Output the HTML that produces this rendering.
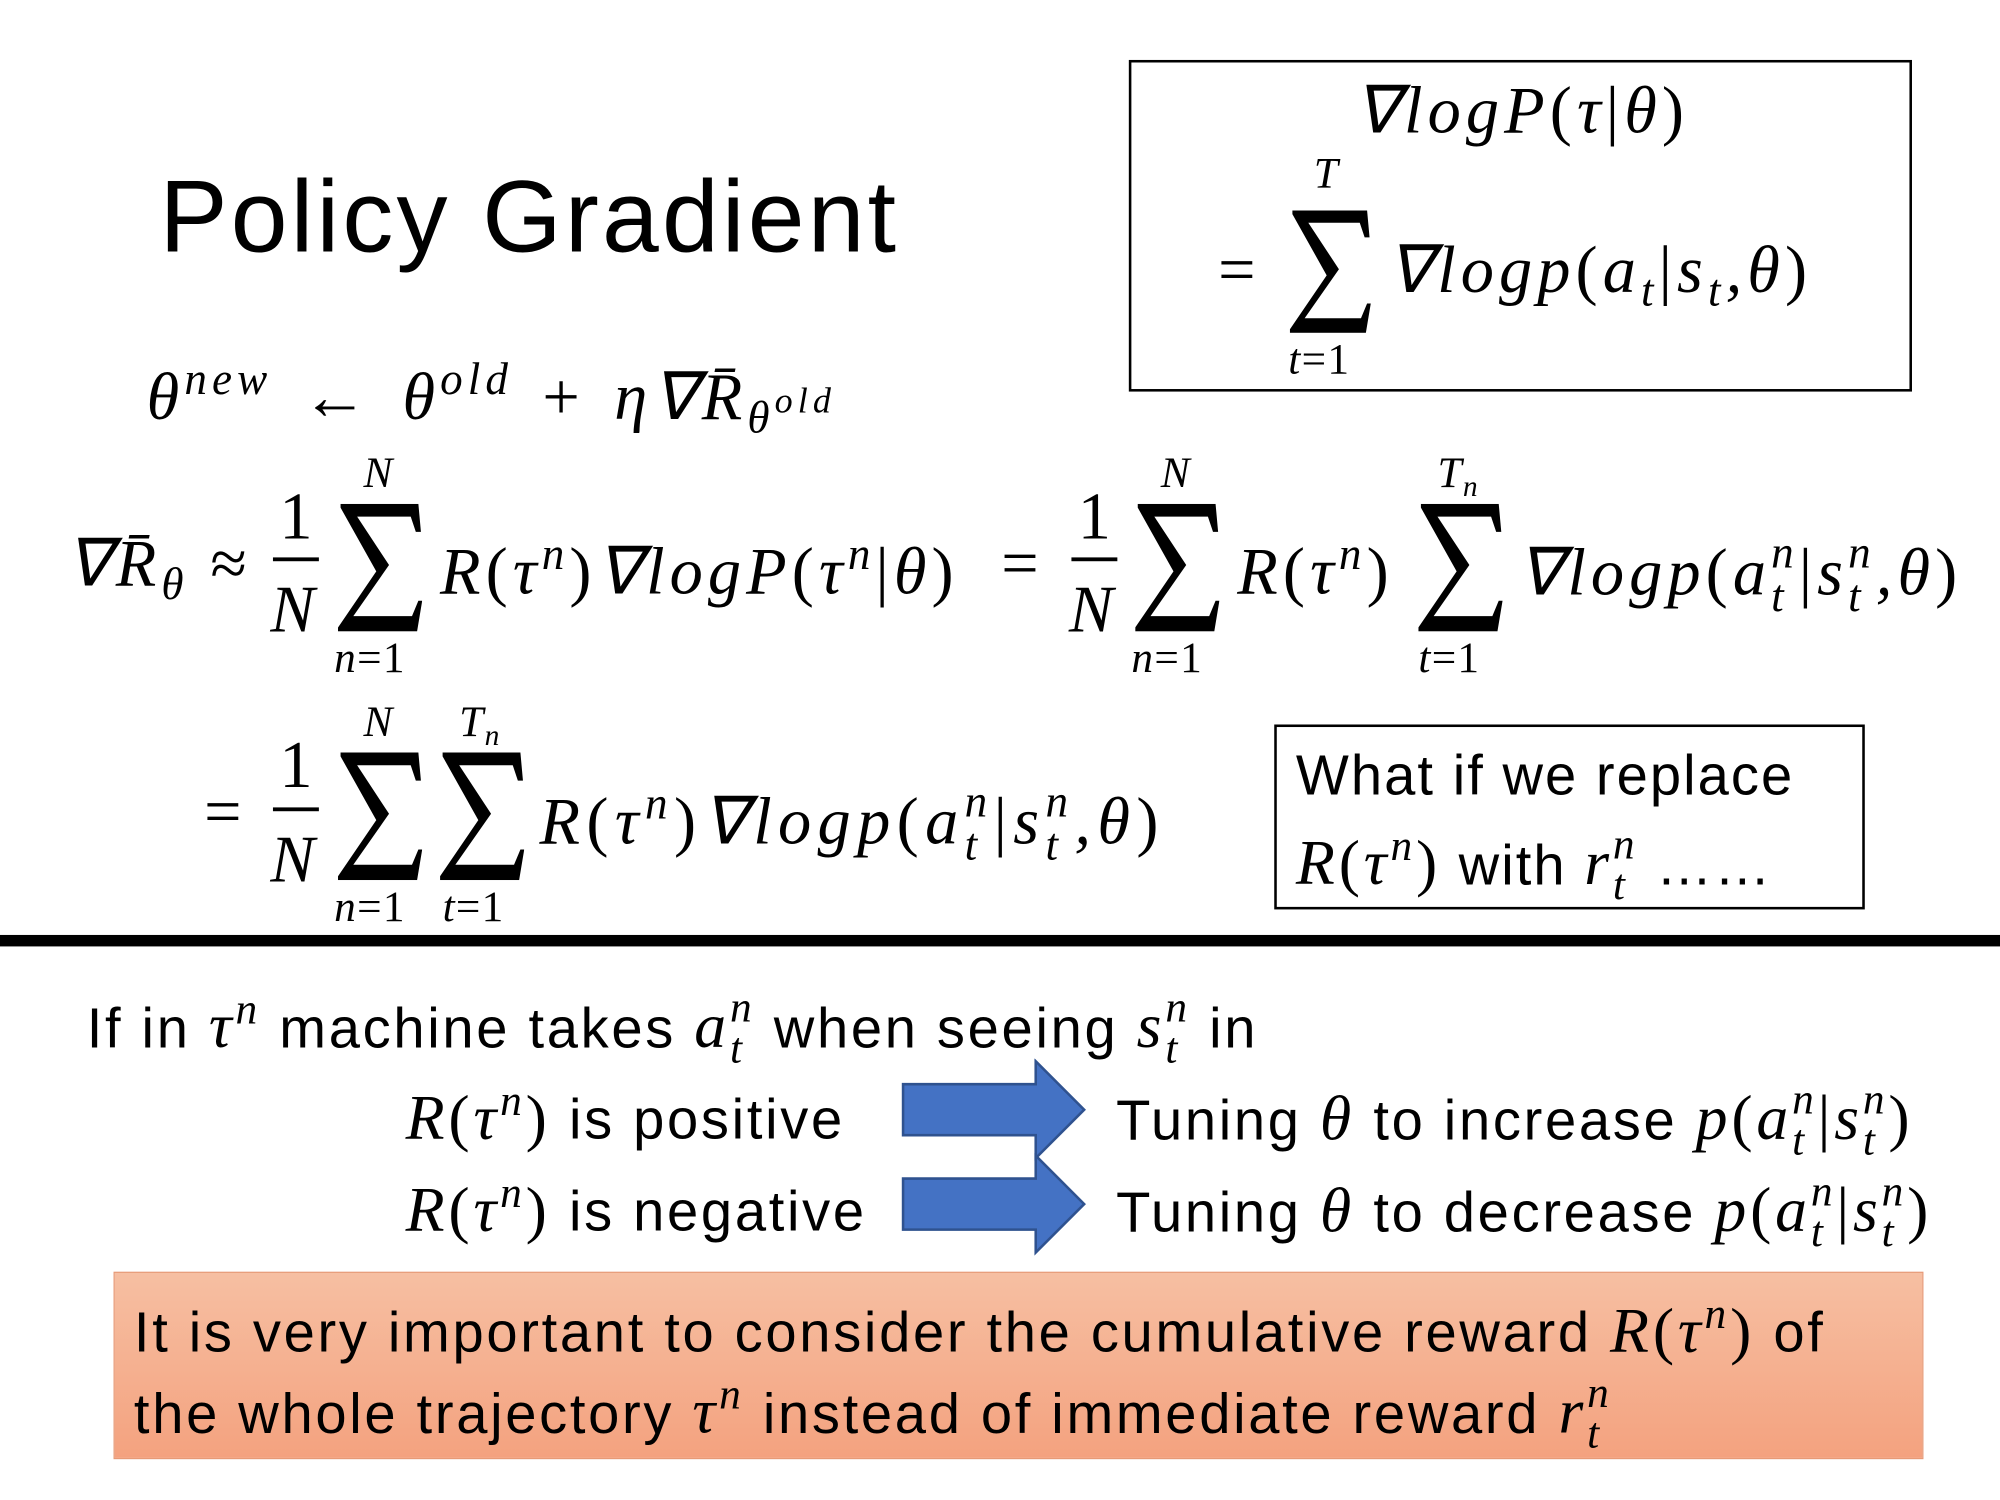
<!DOCTYPE html>
<html><head><meta charset="utf-8">
<style>
html,body{margin:0;padding:0;background:#fff;}
#root{position:relative;width:2000px;height:1500px;overflow:hidden;background:#fff;}
#s{position:absolute;left:0;top:0;width:1568px;height:1176px;transform:scale(1.27551);transform-origin:0 0;}
.a{position:absolute;white-space:nowrap;line-height:1;}
.m{font-family:"Liberation Serif",serif;font-style:italic;font-size:52px;letter-spacing:4px;}
.t{font-family:"Liberation Sans",sans-serif;font-size:44px;letter-spacing:2.1px;}
.t .m{font-size:50px;letter-spacing:3px;}
.sp{font-size:0.68em;vertical-align:0.55em;}
.sb{font-size:0.68em;vertical-align:-0.3em;}
.ss{display:inline-block;vertical-align:-0.35em;font-size:0.68em;line-height:0.95;text-align:left;}
.ss span{display:block;}
.up{font-style:normal;}
.sm{font-size:34px;letter-spacing:1px;}
.bar{position:absolute;height:3px;background:#000;}
</style></head><body>
<div id="root"><div id="s">

<div class="a" style="left:125px;top:130px;font-family:'Liberation Sans',sans-serif;font-size:80px;letter-spacing:2.5px;">Policy Gradient</div>

<div class="a" style="left:885px;top:47px;width:610px;height:256px;border:2px solid #000;"></div>
<div class="a m" style="left:1062px;top:62px;">∇logP<span class="up">(</span>τ<span class="up">|</span>θ<span class="up">)</span></div>
<div class="a m" style="left:955px;top:187px;"><span class="up">=</span></div>
<svg class="a" style="left:1010px;top:165px" width="66" height="96" viewBox="0 0 66 100"><polygon points="2,0 63,0 65,22 61,22 57,10 15,10 40,48 12,88 58,88 63,76 66,76 62,100 0,100 0,97 30,53 2,3"/></svg>
<div class="a m sm" style="left:1030px;top:120px;">T</div>
<div class="a m sm" style="left:1010px;top:266px;">t<span class="up">=1</span></div>
<div class="a m" style="left:1088px;top:187px;">∇logp<span class="up">(</span>a<span class="sb">t</span><span class="up">|</span>s<span class="sb">t</span>,θ<span class="up">)</span></div>

<div class="a m" style="left:115px;top:280px;word-spacing:6px;">θ<span class="sp">new</span> <span class="up">←</span> θ<span class="sp">old</span> <span class="up">+</span> η∇R̄<span class="sb">θ<span class="sp" style="font-size:0.8em">old</span></span></div>

<!-- line 3 -->
<div class="a m" style="left:52px;top:417px;">∇R̄<span class="sb">θ</span> <span class="up">≈</span></div>
<div class="a m" style="left:219px;top:380px;"><span class="up">1</span></div>
<div class="bar" style="left:214px;top:437px;width:36px;"></div>
<div class="a m" style="left:212px;top:453px;">N</div>
<svg class="a" style="left:265px;top:395px" width="66" height="100" viewBox="0 0 66 100"><polygon points="2,0 63,0 65,22 61,22 57,10 15,10 40,48 12,88 58,88 63,76 66,76 62,100 0,100 0,97 30,53 2,3"/></svg>
<div class="a m sm" style="left:285px;top:355px;">N</div>
<div class="a m sm" style="left:262px;top:500px;">n<span class="up">=1</span></div>
<div class="a m" style="left:345px;top:417px;">R<span class="up">(</span>τ<span class="sp">n</span><span class="up">)</span>∇logP<span class="up">(</span>τ<span class="sp">n</span><span class="up">|</span>θ<span class="up">)</span></div>
<div class="a m" style="left:785px;top:417px;"><span class="up">=</span></div>
<div class="a m" style="left:845px;top:380px;"><span class="up">1</span></div>
<div class="bar" style="left:840px;top:437px;width:36px;"></div>
<div class="a m" style="left:838px;top:453px;">N</div>
<svg class="a" style="left:890px;top:395px" width="66" height="100" viewBox="0 0 66 100"><polygon points="2,0 63,0 65,22 61,22 57,10 15,10 40,48 12,88 58,88 63,76 66,76 62,100 0,100 0,97 30,53 2,3"/></svg>
<div class="a m sm" style="left:910px;top:355px;">N</div>
<div class="a m sm" style="left:887px;top:500px;">n<span class="up">=1</span></div>
<div class="a m" style="left:970px;top:417px;">R<span class="up">(</span>τ<span class="sp">n</span><span class="up">)</span></div>
<svg class="a" style="left:1112px;top:395px" width="66" height="100" viewBox="0 0 66 100"><polygon points="2,0 63,0 65,22 61,22 57,10 15,10 40,48 12,88 58,88 63,76 66,76 62,100 0,100 0,97 30,53 2,3"/></svg>
<div class="a m sm" style="left:1127px;top:355px;">T<span class="sb">n</span></div>
<div class="a m sm" style="left:1112px;top:500px;">t<span class="up">=1</span></div>
<div class="a m" style="left:1190px;top:417px;">∇logp<span class="up">(</span>a<span class="ss"><span>n</span><span>t</span></span><span class="up">|</span>s<span class="ss"><span>n</span><span>t</span></span>,θ<span class="up">)</span></div>

<!-- line 4 -->
<div class="a m" style="left:160px;top:612px;"><span class="up">=</span></div>
<div class="a m" style="left:219px;top:575px;"><span class="up">1</span></div>
<div class="bar" style="left:214px;top:633px;width:36px;"></div>
<div class="a m" style="left:212px;top:649px;">N</div>
<svg class="a" style="left:265px;top:590px" width="66" height="100" viewBox="0 0 66 100"><polygon points="2,0 63,0 65,22 61,22 57,10 15,10 40,48 12,88 58,88 63,76 66,76 62,100 0,100 0,97 30,53 2,3"/></svg>
<div class="a m sm" style="left:285px;top:550px;">N</div>
<div class="a m sm" style="left:262px;top:695px;">n<span class="up">=1</span></div>
<svg class="a" style="left:345px;top:590px" width="66" height="100" viewBox="0 0 66 100"><polygon points="2,0 63,0 65,22 61,22 57,10 15,10 40,48 12,88 58,88 63,76 66,76 62,100 0,100 0,97 30,53 2,3"/></svg>
<div class="a m sm" style="left:360px;top:550px;">T<span class="sb">n</span></div>
<div class="a m sm" style="left:347px;top:695px;">t<span class="up">=1</span></div>
<div class="a m" style="left:423px;top:612px;letter-spacing:5px;">R<span class="up">(</span>τ<span class="sp">n</span><span class="up">)</span>∇logp<span class="up">(</span>a<span class="ss"><span>n</span><span>t</span></span><span class="up">|</span>s<span class="ss"><span>n</span><span>t</span></span>,θ<span class="up">)</span></div>

<div class="a" style="left:999px;top:568px;width:459px;height:141px;border:2px solid #000;"></div>
<div class="a t" style="left:1016px;top:587px;letter-spacing:1.6px;">What if we replace</div>
<div class="a t" style="left:1016px;top:647px;letter-spacing:1.6px;"><span class="m">R<span class="up">(</span>τ<span class="sp">n</span><span class="up">)</span></span> with <span class="m">r<span class="ss"><span>n</span><span>t</span></span></span> ……</div>

<div class="a" style="left:0;top:733px;width:1568px;height:9px;background:#000;"></div>

<div class="a t" style="left:68px;top:775px;">If in <span class="m">τ<span class="sp">n</span></span> machine takes <span class="m">a<span class="ss"><span>n</span><span>t</span></span></span> when seeing <span class="m">s<span class="ss"><span>n</span><span>t</span></span></span> in</div>

<div class="a t" style="left:318px;top:847px;"><span class="m">R<span class="up">(</span>τ<span class="sp">n</span><span class="up">)</span></span> is positive</div>
<svg class="a" style="left:706px;top:830px" width="146" height="80"><polygon points="2,20 106,20 106,2 144,40 106,78 106,60 2,60" fill="#4472C4" stroke="#2f528f" stroke-width="2"/></svg>
<div class="a t" style="left:875px;top:847px;">Tuning <span class="m">θ</span> to increase <span class="m">p<span class="up">(</span>a<span class="ss"><span>n</span><span>t</span></span><span class="up">|</span>s<span class="ss"><span>n</span><span>t</span></span><span class="up">)</span></span></div>

<div class="a t" style="left:318px;top:919px;"><span class="m">R<span class="up">(</span>τ<span class="sp">n</span><span class="up">)</span></span> is negative</div>
<svg class="a" style="left:706px;top:904px" width="146" height="82"><polygon points="2,20 106,20 106,2 144,40 106,78 106,60 2,60" fill="#4472C4" stroke="#2f528f" stroke-width="2"/></svg>
<div class="a t" style="left:875px;top:919px;">Tuning <span class="m">θ</span> to decrease <span class="m">p<span class="up">(</span>a<span class="ss"><span>n</span><span>t</span></span><span class="up">|</span>s<span class="ss"><span>n</span><span>t</span></span><span class="up">)</span></span></div>

<div class="a" style="left:89px;top:997px;width:1417px;height:145px;background:linear-gradient(#f6bfa2,#f4a27f);border:1px solid #e79a77;"></div>
<div class="a t" style="left:105px;top:1014px;">It is very important to consider the cumulative reward <span class="m">R<span class="up">(</span>τ<span class="sp">n</span><span class="up">)</span></span> of</div>
<div class="a t" style="left:105px;top:1077px;">the whole trajectory <span class="m">τ<span class="sp">n</span></span> instead of immediate reward <span class="m">r<span class="ss"><span>n</span><span>t</span></span></span></div>

</div></div>
</body></html>
